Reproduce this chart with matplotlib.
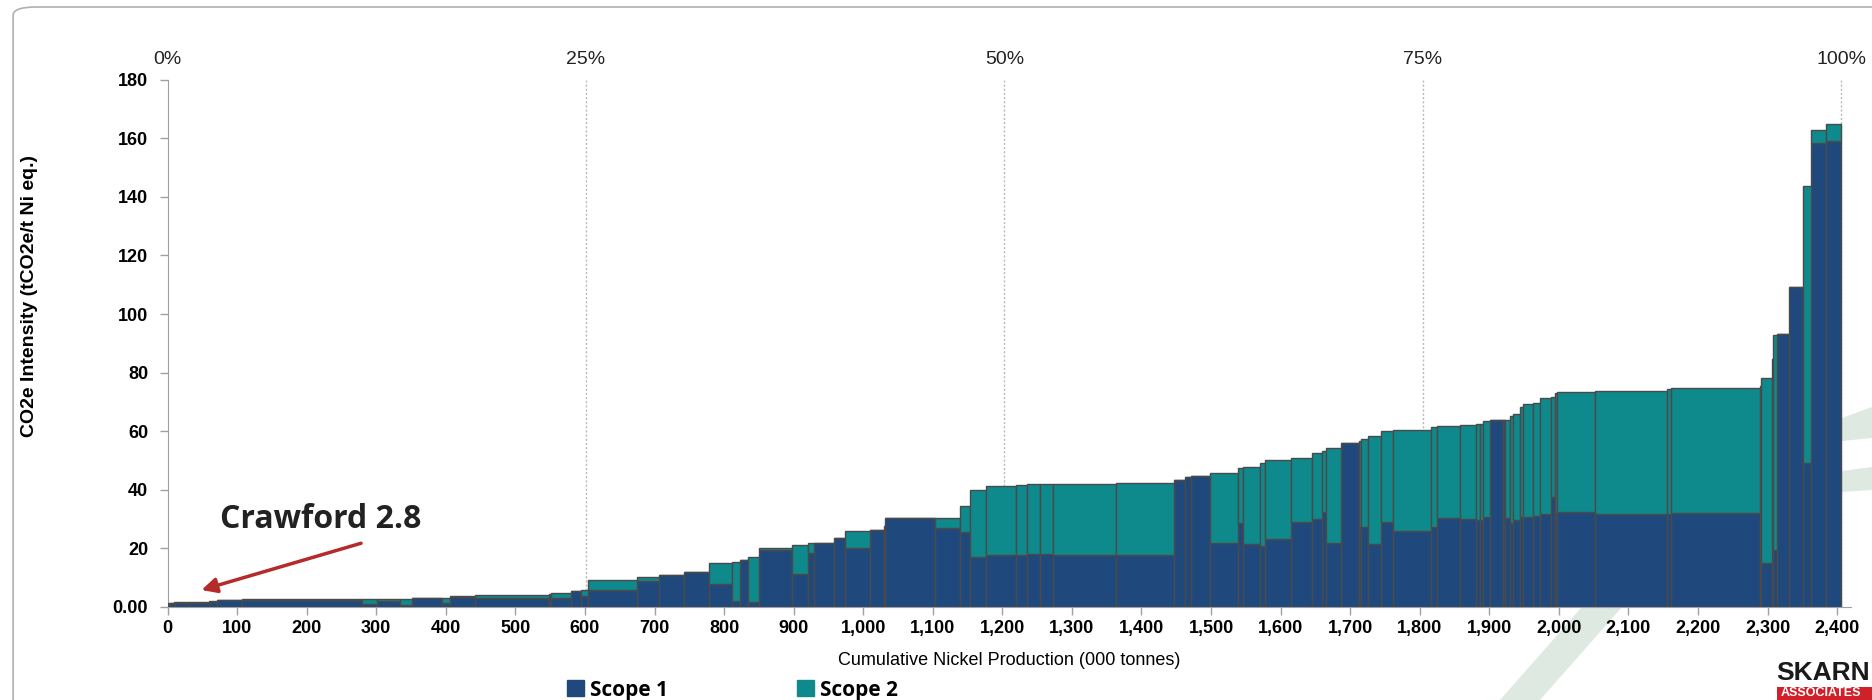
import matplotlib.pyplot as plt
import matplotlib.patches as mpatches
from matplotlib.ticker import FuncFormatter
import numpy as np

# bar edges (cumulative production, 000 t) and intensities
edges = [0, 3.6, 9.3, 31.3, 60, 71.6, 107, 280, 300.6, 334, 351.7, 394, 406, 442,
         548, 551, 580, 594, 605, 675, 707, 743, 778, 811.5, 822.6, 835, 850, 898,
         920, 929, 958.6, 974.4, 1010, 1029.5, 1032, 1103, 1138.6, 1154, 1177, 1220,
         1236, 1254.6, 1273, 1363, 1447, 1462, 1471.6, 1498, 1539, 1546, 1570, 1577,
         1615.6, 1645, 1659, 1665.5, 1687, 1712, 1716, 1725, 1745, 1762, 1816, 1825,
         1858, 1881, 1886, 1891.5, 1901, 1919, 1922, 1930, 1934.6, 1944, 1948, 1963,
         1973, 1989, 1994, 1998, 2052.5, 2156, 2161, 2289, 2291, 2306, 2308, 2314,
         2331, 2351, 2363, 2384, 2406]
total = [1.2, 1.5, 1.6, 1.6, 2.0, 2.5, 2.8, 2.8, 2.8, 2.8, 3.2, 3.0, 3.6,
         3.9, 4.5, 4.8, 5.5, 5.9, 9.1, 10.3, 11.0, 11.9, 15.1, 15.5, 16.0, 16.9, 20.0,
         21.2, 21.8, 21.8, 23.4, 25.9, 26.2, 27.5, 30.2, 30.5, 34.5, 39.9, 41.3,
         41.6, 42.0, 42.0, 42.0, 42.3, 43.4, 44.4, 44.7, 45.8, 47.5, 47.9, 49.1,
         50.2, 50.9, 52.6, 53.2, 54.1, 56.1, 56.6, 57.5, 58.4, 60.1, 60.4, 61.4,
         61.8, 62.0, 62.6, 62.6, 63.4, 63.7, 63.7, 63.9, 65.1, 65.9, 68.3, 69.4,
         69.7, 71.5, 71.7, 73.1, 73.5, 73.6, 74.3, 74.6, 75.5, 78.0, 84.7, 92.9,
         93.3, 109.3, 143.8, 163.0, 165.0]
scope1 = [0.5, 1.3, 1.4, 1.4, 1.7, 2.3, 2.5, 0.9, 2.0, 0.8, 2.9, 1.4, 3.3,
          3.0, 4.0, 2.9, 5.5, 3.8, 5.7, 8.9, 11.0, 11.9, 7.7, 2.1, 16.0, 1.7, 19.4,
          11.4, 18.5, 21.8, 23.4, 20.1, 26.2, 27.5, 30.2, 27.0, 25.5, 17.1, 17.7,
          17.7, 18.0, 18.0, 17.7, 17.7, 43.4, 44.4, 44.7, 21.7, 28.8, 21.4, 20.9,
          23.1, 28.9, 29.9, 32.5, 21.7, 56.1, 27.2, 27.2, 21.4, 28.9, 25.8, 27.4,
          30.3, 29.9, 29.7, 29.7, 30.6, 63.7, 63.7, 30.3, 28.8, 29.7, 30.6, 30.6,
          31.1, 31.6, 37.7, 32.0, 32.4, 31.6, 31.6, 31.9, 75.5, 15.0, 84.7, 19.4,
          93.3, 109.3, 49.2, 158.4, 159.2]

edges = np.array(edges)
left = edges[:-1]
width = np.diff(edges)
scope1 = np.array(scope1)
scope2 = np.array(total) - scope1

pct_labels = ['0%', '25%', '50%', '75%', '100%']
pct_vals = [0, 0.25, 0.5, 0.75, 1.0]

blue = '#1f497d'
teal = '#0e8a8c'
edge = '#4a4a4a'
pale = '#dde9e1'

fig = plt.figure(figsize=(18.72, 7), dpi=100)
ax = fig.add_axes([0.0895, 0.133, 0.8993, 0.753])
ax.patch.set_visible(False)

# rounded frame around the chart
frame = mpatches.FancyBboxPatch((0.007, -0.05), 1.2, 1.04, transform=fig.transFigure,
                                boxstyle='round,pad=0,rounding_size=0.012',
                                fc='none', ec='#b0b0b0', lw=1.2, zorder=-2)
fig.patches.append(frame)

# faint logo watermark pieces behind the plot
def fig_poly(pts):
    pts = [(x / 1872, 1 - y / 700) for x, y in pts]
    fig.patches.append(mpatches.Polygon(pts, closed=True, transform=fig.transFigure,
                                        fc=pale, ec='none', zorder=-1))

fig_poly([(1842, 418), (1872, 407), (1872, 438), (1842, 441)])
fig_poly([(1842, 471), (1872, 467), (1872, 490), (1842, 492)])
fig_poly([(1582, 607), (1622, 607), (1540, 700), (1500, 700)])

ax.bar(left, scope1, width=width, align='edge', color=blue, edgecolor=edge, linewidth=1.0, zorder=3)
ax.bar(left, scope2, width=width, bottom=scope1, align='edge', color=teal, edgecolor=edge,
       linewidth=1.0, zorder=3)

ax.set_xlim(0, 2420)
ax.set_ylim(0, 180)

# percentile markers on top
cum_total = edges[-1]
for lab, p in zip(pct_labels, pct_vals):
    xp = cum_total * p
    if p > 0:
        ax.axvline(xp, color='#b8b8b8', lw=1, ls=(0, (1.5, 1.5)), zorder=1)
    ax.text(xp, 1.022, lab, transform=ax.get_xaxis_transform(), ha='center', va='bottom',
            fontsize=14, family='Liberation Sans', color='#222222')

ax.set_xticks(np.arange(0, 2401, 100))
ax.set_yticks(np.arange(0, 181, 20))
ax.xaxis.set_major_formatter(FuncFormatter(lambda v, p: f'{int(v):,}'))
ax.yaxis.set_major_formatter(FuncFormatter(lambda v, p: '0.00' if v == 0 else f'{int(v)}'))
for lab in ax.get_xticklabels() + ax.get_yticklabels():
    lab.set_fontweight('bold')
    lab.set_family('Liberation Sans')
    lab.set_fontsize(13)
ax.tick_params(axis='both', color='#a0a0a0', length=6, width=1)
ax.tick_params(axis='y', pad=8)

for s in ['top', 'right']:
    ax.spines[s].set_visible(False)
for s in ['left', 'bottom']:
    ax.spines[s].set_color('#a0a0a0')

ax.set_xlabel('Cumulative Nickel Production (000 tonnes)', fontsize=13,
              family='Liberation Sans', labelpad=11)
ax.set_ylabel('CO2e Intensity (tCO2e/t Ni eq.)', fontsize=14, fontweight='bold',
              family='Liberation Sans')
ax.yaxis.set_label_coords(-0.077, 0.59)

# Crawford annotation
ax.annotate('', xy=(45, 5.5), xytext=(282, 22),
            arrowprops=dict(arrowstyle='-|>,head_length=0.9,head_width=0.45',
                            color='#b52a2a', lw=2.5), zorder=5)
ax.text(75, 30, 'Crawford 2.8', fontsize=23, fontweight='bold', family='Open Sans',
        color='#222222', va='center', ha='left', zorder=5)

# legend (partly cut at bottom)
handles = [mpatches.Patch(color=blue, label='Scope 1'),
           mpatches.Patch(color=teal, label='Scope 2')]
fig.legend(handles=handles, loc='center left', bbox_to_anchor=(0.293, 0.014), ncol=2,
           frameon=False, prop={'family': 'Open Sans', 'weight': 'bold', 'size': 15},
           handlelength=0.8, handleheight=0.8, handletextpad=0.3, columnspacing=6.2)

# logo corner
fig.text(0.949, 0.022, 'SKARN', ha='left', va='bottom', fontsize=19, fontweight='bold',
         family='Liberation Sans', color='#1a1a1a')
fig.patches.append(mpatches.Rectangle((0.949, 0.0), 0.06, 0.019, transform=fig.transFigure,
                                      fc='#d0202a', ec='none', zorder=1))
fig.text(0.951, 0.002, 'ASSOCIATES', ha='left', va='bottom', fontsize=9, fontweight='bold',
         family='Liberation Sans', color='white')

fig.savefig('out.png', dpi=100)
